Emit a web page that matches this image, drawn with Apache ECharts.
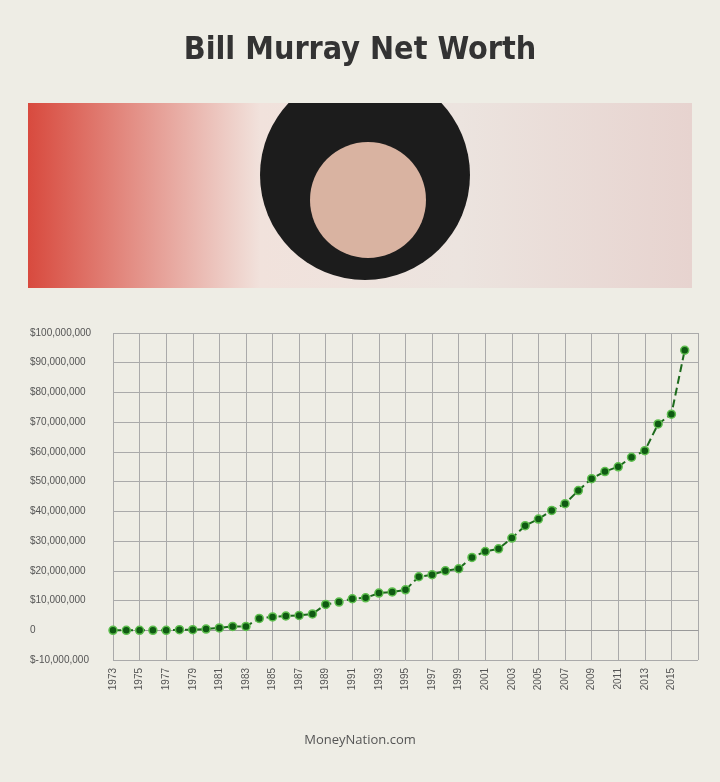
<!DOCTYPE html><html><head><meta charset="utf-8">
<script src="https://cdn.jsdelivr.net/npm/echarts@6/dist/echarts.min.js"></script>
<style>html,body{margin:0;padding:0;background:#eeede5}#c{width:720px;height:782px}</style></head><body><div id="c"></div><script>
const years=[];for(let y=1973;y<=2017;y++)years.push(String(y));
const netWorth=[0,0,0,0,0,0.2,0.2,0.4,0.8,1.3,1.3,4,4.5,4.8,5,5.5,8.7,9.5,10.6,10.9,12.5,12.9,13.6,18,18.7,20,20.7,24.5,26.5,27.4,31,35.2,37.4,40.3,42.6,47,51,53.4,55,58.2,60.4,69.4,72.7,94.2,null].map(v=>v==null?null:v*1e6);
const chart=echarts.init(document.getElementById('c'));
chart.setOption({
 backgroundColor:'#eeede5',
 title:{text:'Bill Murray Net Worth',left:'center',top:30,textStyle:{fontFamily:'DejaVu Sans Condensed',fontWeight:'bold',fontSize:32,color:'#333'}},
 graphic:[
  {type:'rect',shape:{x:28,y:103,width:664,height:185},style:{fill:new echarts.graphic.LinearGradient(0,0,1,0,[{offset:0,color:'#d84a3e'},{offset:0.35,color:'#f1e2dc'},{offset:0.65,color:'#ece4df'},{offset:1,color:'#e7d3cf'}])}},
  {type:'circle',shape:{cx:365,cy:175,r:105},style:{fill:'#1c1c1c'},clipPath:{type:'rect',shape:{x:28,y:103,width:664,height:185}}},
  {type:'circle',shape:{cx:368,cy:200,r:58},style:{fill:'#d9b3a1'}},
  {type:'text',left:'center',top:734,style:{text:'MoneyNation.com',fontSize:13,fill:'#555',fontFamily:'Open Sans'}}
 ],
 grid:{left:113,right:22,top:333,bottom:122},
 xAxis:{type:'category',data:years,boundaryGap:false,
  axisLine:{lineStyle:{color:'#999'}},axisTick:{show:false},
  axisLabel:{interval:1,rotate:90,color:'#555',fontSize:10,formatter:v=>v==='2017'?'':v},
  splitLine:{show:true,interval:1,lineStyle:{color:'#aaa'}}},
 yAxis:{type:'value',min:-10e6,max:100e6,interval:10e6,
  axisLine:{show:false},axisTick:{show:false},
  axisLabel:{color:'#555',fontSize:10,align:'left',margin:83,formatter:v=>v===0?'0':(v<0?'$-':'$')+Math.abs(v).toLocaleString('en-US')},
  splitLine:{lineStyle:{color:'#aaa'}}},
 series:[{type:'line',data:netWorth,symbol:'circle',symbolSize:8,
  lineStyle:{color:'#1d6a1d',width:2,type:'dashed'},
  itemStyle:{color:'#0f5a12',borderColor:'#5fbf4f',borderWidth:1.5}}]
});
</script></body></html>
